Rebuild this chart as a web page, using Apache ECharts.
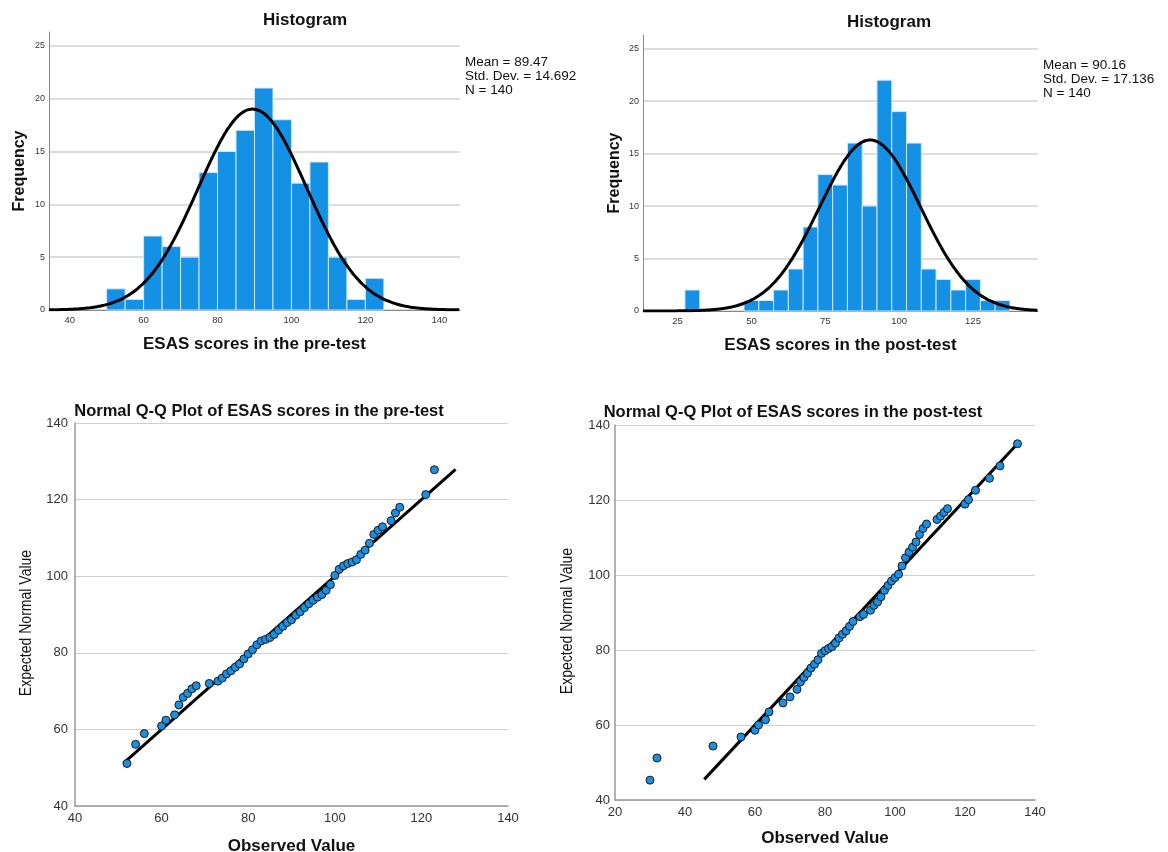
<!DOCTYPE html>
<html>
<head>
<meta charset="utf-8">
<title>ESAS scores - histograms and normal Q-Q plots</title>
<script src="https://cdn.jsdelivr.net/npm/echarts@6/dist/echarts.min.js"></script>
<style>
    html, body { margin: 0; padding: 0; background: #fff; }
    #main { width: 1168px; height: 852px; }
</style>
</head>
<body>
<div id="main"></div>
<script>
// ---- data ----
const binWidth = 5
const preBinLeft = [50, 55, 60, 65, 70, 75, 80, 85, 90, 95, 100, 105, 110, 115, 120]
const preCounts = [2, 1, 7, 6, 5, 13, 15, 17, 21, 18, 12, 14, 5, 1, 3]
const postBinLeft = [27.5, 47.5, 52.5, 57.5, 62.5, 67.5, 72.5, 77.5, 82.5, 87.5, 92.5, 97.5, 102.5, 107.5, 112.5, 117.5, 122.5, 127.5, 132.5]
const postCounts = [2, 1, 1, 2, 4, 8, 13, 12, 16, 10, 22, 19, 16, 4, 3, 2, 3, 1, 1]

const preMean = 89.47, preSd = 14.692
const postMean = 90.16, postSd = 17.136
const nCases = 140

const preXTicks = [40, 60, 80, 100, 120, 140]
const postXTicks = [25, 50, 75, 100, 125]
const freqTicks = [0, 5, 10, 15, 20, 25]

const preObserved = [52, 54, 56, 60, 61, 63, 64, 65, 66, 67, 68, 71, 73, 74, 75, 76, 77, 78, 79, 80,
    81, 82, 83, 84, 85, 86, 87, 88, 89, 90, 91, 92, 93, 94, 95, 96, 97, 98, 99, 100,
    101, 102, 103, 104, 105, 106, 107, 108, 109, 110, 111, 113, 114, 115, 121, 123]
const preExpected = [51.1, 56.1, 58.9, 60.9, 62.4, 63.8, 66.4, 68.4, 69.4, 70.6, 71.4, 72.0, 72.6, 73.4, 74.5, 75.3, 76.2, 77.1, 78.4, 79.7,
    80.8, 82.1, 83.1, 83.5, 84.0, 84.8, 85.9, 86.9, 87.9, 88.6, 89.8, 90.7, 91.8, 92.8, 93.7, 94.5, 95.2, 96.3, 97.8, 100.2,
    101.8, 102.7, 103.3, 103.7, 104.3, 105.7, 106.8, 108.6, 110.9, 112.0, 112.9, 114.5, 116.5, 118.0, 121.3, 127.8]
const preRefLine = [51.2, 127.9]

const postObserved = [30, 32, 48, 56, 60, 61, 63, 64, 68, 70, 72, 73, 74, 75, 76, 77, 78, 79, 80, 81,
    82, 83, 84, 85, 86, 87, 88, 90, 91, 93, 94, 95, 96, 97, 98, 99, 100, 101, 102, 103,
    104, 105, 106, 107, 108, 109, 112, 113, 114, 115, 120, 121, 123, 127, 130, 135]
const postExpected = [45.3, 51.2, 54.4, 56.8, 58.6, 60.0, 61.4, 63.5, 65.9, 67.5, 69.5, 71.5, 72.7, 73.8, 75.2, 76.2, 77.4, 79.1, 79.8, 80.4,
    80.9, 81.8, 83.2, 84.2, 85.1, 86.3, 87.6, 88.9, 89.5, 90.6, 91.9, 92.8, 94.2, 95.9, 97.2, 98.4, 99.3, 100.2, 102.4, 104.6,
    106.1, 107.4, 108.8, 110.8, 112.4, 113.6, 114.8, 115.7, 116.7, 117.7, 118.9, 120.1, 122.6, 125.8, 129.1, 135.0]
const postRefLine = [45.5, 135]

// ---- helpers ----
const FONT = '"Liberation Sans", Arial, sans-serif'
const BAR = '#1490e5'

// fitted normal curve scaled to counts (n * bin width * density)
function normalCurve(mean, sd, lo, hi) {
    let pts = []
    for (let x = lo; x <= hi + 1e-9; x += 0.5) {
        let z = (x - mean) / sd
        pts.push([x, nCases * binWidth * Math.exp(-0.5 * z * z) / (sd * Math.sqrt(2 * Math.PI))])
    }
    return pts
}

function histBars(left, counts) {
    return left.map((b, i) => [b, b + binWidth, counts[i]])
}

function renderBar(params, api) {
    let p0 = api.coord([api.value(0), api.value(2)])
    let p1 = api.coord([api.value(1), 0])
    return {
        type: 'rect',
        shape: { x: p0[0], y: p0[1], width: p1[0] - p0[0], height: p1[1] - p0[1] },
        style: { fill: BAR, stroke: '#cde7fb', lineWidth: 1 }
    }
}

function histX(idx, min, max, ticks, name) {
    return {
        type: 'value', gridIndex: idx, min: min, max: max,
        axisLine: { show: true, onZero: false, lineStyle: { color: '#888', width: 1 } },
        axisTick: { show: false, customValues: ticks },
        axisLabel: { customValues: ticks, fontSize: 9.5, color: '#333', margin: 5, fontFamily: FONT },
        splitLine: { show: false },
        name: name, nameLocation: 'middle', nameGap: 26,
        nameTextStyle: { fontSize: 17, fontWeight: 'bold', color: '#111', fontFamily: FONT }
    }
}

function histY(idx, gap) {
    return {
        type: 'value', gridIndex: idx, min: 0, max: 26.3,
        axisLine: { show: true, lineStyle: { color: '#888', width: 1 } },
        axisTick: { show: false, customValues: freqTicks },
        axisLabel: { customValues: freqTicks, fontSize: 9, color: '#333', margin: 4, fontFamily: FONT },
        splitLine: { show: true, lineStyle: { color: '#d2d2d2', width: 1.5 } },
        name: 'Frequency', nameLocation: 'middle', nameGap: gap, nameRotate: 90,
        nameTextStyle: { fontSize: 16, fontWeight: 'bold', color: '#111', fontFamily: FONT }
    }
}

function qqX(idx, min, gap) {
    return {
        type: 'value', gridIndex: idx, min: min, max: 140, interval: 20,
        axisLine: { show: true, onZero: false, lineStyle: { color: '#999', width: 1.5 } },
        axisTick: { show: false },
        axisLabel: { fontSize: 13, color: '#333', margin: 6, fontFamily: FONT },
        splitLine: { show: false },
        name: 'Observed Value', nameLocation: 'middle', nameGap: gap,
        nameTextStyle: { fontSize: 17, fontWeight: 'bold', color: '#111', fontFamily: FONT }
    }
}

function qqY(idx, margin) {
    return {
        type: 'value', gridIndex: idx, min: 40, max: 140, interval: 20,
        axisLine: { show: true, onZero: false, lineStyle: { color: '#999', width: 1.5 } },
        axisTick: { show: false },
        axisLabel: { fontSize: 13, color: '#333', margin: margin, fontFamily: FONT },
        splitLine: { show: true, lineStyle: { color: '#cfcfcf', width: 1 } }
    }
}

function statsText(mean, sd) {
    return 'Mean = ' + mean.toFixed(2) + '\nStd. Dev. = ' + sd.toFixed(3) + '\nN = ' + nCases
}

function titleAt(text, x, y, size) {
    return {
        text: text, left: x, top: y, textAlign: 'center', padding: 0,
        textStyle: { fontSize: size, fontWeight: 'bold', color: '#111', fontFamily: FONT }
    }
}

// ---- chart ----
let myChart = echarts.init(document.getElementById('main'))

let option = {
    animation: false,
    backgroundColor: '#fff',
    title: [
        titleAt('Histogram', 305, 12, 17),
        titleAt('Histogram', 889, 14, 17),
        titleAt('Normal Q-Q Plot of ESAS scores in the pre-test', 259, 403, 16.5),
        titleAt('Normal Q-Q Plot of ESAS scores in the post-test', 793, 404, 16.5)
    ],
    grid: [
        { left: 49, top: 32, width: 411, height: 278, outerBoundsMode: 'none' },
        { left: 643, top: 35, width: 395, height: 276, outerBoundsMode: 'none' },
        { left: 75, top: 423, width: 433, height: 383, outerBoundsMode: 'none' },
        { left: 615, top: 425, width: 420, height: 375, outerBoundsMode: 'none' }
    ],
    xAxis: [
        histX(0, 34.4, 145.6, preXTicks, 'ESAS scores in the pre-test'),
        histX(1, 13.3, 147, postXTicks, 'ESAS scores in the post-test'),
        qqX(2, 40, 32),
        qqX(3, 20, 30)
    ],
    yAxis: [
        histY(0, 21),
        histY(1, 20),
        qqY(2, 7),
        qqY(3, 5)
    ],
    series: [
        {
            type: 'custom', xAxisIndex: 0, yAxisIndex: 0, renderItem: renderBar,
            encode: { x: [0, 1], y: 2 }, data: histBars(preBinLeft, preCounts)
        },
        {
            type: 'line', xAxisIndex: 0, yAxisIndex: 0, showSymbol: false, smooth: true,
            lineStyle: { color: '#000', width: 3 }, z: 5,
            data: normalCurve(preMean, preSd, 34.4, 145.6)
        },
        {
            type: 'custom', xAxisIndex: 1, yAxisIndex: 1, renderItem: renderBar,
            encode: { x: [0, 1], y: 2 }, data: histBars(postBinLeft, postCounts)
        },
        {
            type: 'line', xAxisIndex: 1, yAxisIndex: 1, showSymbol: false, smooth: true,
            lineStyle: { color: '#000', width: 3 }, z: 5,
            data: normalCurve(postMean, postSd, 13.3, 147)
        },
        {
            type: 'line', xAxisIndex: 2, yAxisIndex: 2, showSymbol: false,
            lineStyle: { color: '#000', width: 3 },
            data: preRefLine.map(v => [v, v])
        },
        {
            type: 'scatter', xAxisIndex: 2, yAxisIndex: 2, symbolSize: 8, z: 4,
            itemStyle: { color: '#1a8fe3', borderColor: '#1a1a1a', borderWidth: 1, opacity: 1 },
            data: preObserved.map((x, i) => [x, preExpected[i]])
        },
        {
            type: 'line', xAxisIndex: 3, yAxisIndex: 3, showSymbol: false,
            lineStyle: { color: '#000', width: 3 },
            data: postRefLine.map(v => [v, v])
        },
        {
            type: 'scatter', xAxisIndex: 3, yAxisIndex: 3, symbolSize: 8, z: 4,
            itemStyle: { color: '#1a8fe3', borderColor: '#1a1a1a', borderWidth: 1, opacity: 1 },
            data: postObserved.map((x, i) => [x, postExpected[i]])
        }
    ],
    graphic: [
        {
            type: 'text', x: 465, y: 55,
            style: { text: statsText(preMean, preSd), font: '13.5px ' + FONT, lineHeight: 14, fill: '#111' }
        },
        {
            type: 'text', x: 1043, y: 58,
            style: { text: statsText(postMean, postSd), font: '13.5px ' + FONT, lineHeight: 14, fill: '#111' }
        },
        {
            type: 'text', x: 26, y: 623, rotation: Math.PI / 2, scaleX: 0.85,
            style: { text: 'Expected Normal Value', font: '16.5px ' + FONT, fill: '#111', align: 'center', verticalAlign: 'middle' }
        },
        {
            type: 'text', x: 567, y: 621, rotation: Math.PI / 2, scaleX: 0.85,
            style: { text: 'Expected Normal Value', font: '16.5px ' + FONT, fill: '#111', align: 'center', verticalAlign: 'middle' }
        }
    ]
}

myChart.setOption(option)
</script>
</body>
</html>
